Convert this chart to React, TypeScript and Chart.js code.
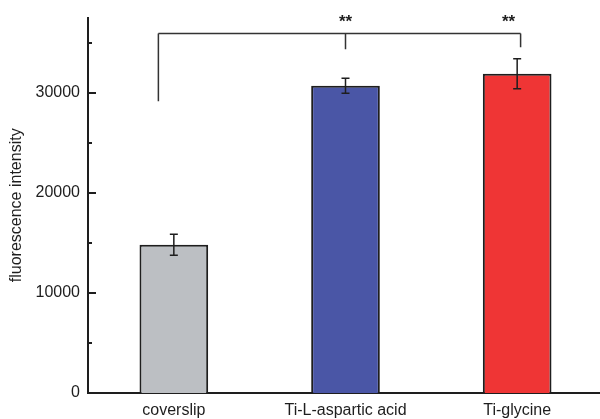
import React, { useEffect, useRef } from "react";
import { Chart, registerables } from "chart.js";

Chart.register(...registerables);

// Samples and mean fluorescence intensity
const categories = ["coverslip", "Ti-L-aspartic acid", "Ti-glycine"];
const meanIntensity = [14800, 30700, 31900];
const errorIntensity = [1050, 750, 1500];
const barColors = ["#bcbfc3", "#4a56a6", "#ef3535"];

// Y axis layout
const yMin = 0;
const yMax = 37500;
const labelTickValues = [0, 10000, 20000, 30000];
const majorTickValues = [10000, 20000, 30000];
const minorTickValues = [5000, 15000, 25000, 35000];

// Significance bracket (x in category index units, y in intensity units)
const bracketTopY = 35900;
const bracketLegX = [-0.09, 1.0, 2.02];
const bracketLegBottomY = [29150, 34350, 34550];
const starLabels = ["**", "**"];
const starX = [1.0, 1.95];
const starY = 36600;

const INK = "#1e1e1e";
const FONT = "'Liberation Sans', Arial, sans-serif";

const annotationsPlugin = {
  id: "figureAnnotations",
  afterDatasetsDraw(chart: any) {
    const { ctx, scales } = chart;
    const x = scales.x;
    const y = scales.y;
    ctx.save();

    // inward tick marks on the value axis
    ctx.strokeStyle = INK;
    ctx.lineWidth = 2;
    const axisX = x.left;
    const drawTick = (v: number, len: number) => {
      const py = Math.round(y.getPixelForValue(v));
      ctx.beginPath();
      ctx.moveTo(axisX, py);
      ctx.lineTo(axisX + len, py);
      ctx.stroke();
    };
    majorTickValues.forEach((v) => drawTick(v, 8));
    minorTickValues.forEach((v) => drawTick(v, 4));

    // error bars
    ctx.lineWidth = 1.5;
    meanIntensity.forEach((m, i) => {
      const px = x.getPixelForValue(i);
      const top = y.getPixelForValue(m + errorIntensity[i]);
      const bot = y.getPixelForValue(m - errorIntensity[i]);
      const cap = 4;
      ctx.beginPath();
      ctx.moveTo(px, top);
      ctx.lineTo(px, bot);
      ctx.moveTo(px - cap, top);
      ctx.lineTo(px + cap, top);
      ctx.moveTo(px - cap, bot);
      ctx.lineTo(px + cap, bot);
      ctx.stroke();
    });

    // significance bracket
    ctx.strokeStyle = "#333333";
    ctx.lineWidth = 1.5;
    const topPx = y.getPixelForValue(bracketTopY);
    ctx.beginPath();
    ctx.moveTo(x.getPixelForValue(bracketLegX[0]), topPx);
    ctx.lineTo(x.getPixelForValue(bracketLegX[bracketLegX.length - 1]), topPx);
    bracketLegX.forEach((lx, i) => {
      const px = x.getPixelForValue(lx);
      ctx.moveTo(px, topPx);
      ctx.lineTo(px, y.getPixelForValue(bracketLegBottomY[i]));
    });
    ctx.stroke();

    // significance stars
    ctx.fillStyle = INK;
    ctx.font = `bold 17px ${FONT}`;
    ctx.textAlign = "center";
    ctx.textBaseline = "alphabetic";
    starLabels.forEach((s, i) => {
      ctx.fillText(s, x.getPixelForValue(starX[i]), y.getPixelForValue(starY));
    });

    ctx.restore();
  },
};

export default function App() {
  const canvasRef = useRef<HTMLCanvasElement | null>(null);

  useEffect(() => {
    document.body.style.margin = "0";
    const canvas = canvasRef.current;
    if (!canvas) return;
    const chart = new Chart(canvas, {
      type: "bar",
      data: {
        labels: categories,
        datasets: [
          {
            data: meanIntensity,
            backgroundColor: barColors,
            borderColor: INK,
            borderWidth: 2,
            categoryPercentage: 1,
            barPercentage: 0.4,
          },
        ],
      },
      options: {
        animation: false,
        responsive: false,
        maintainAspectRatio: false,
        layout: { padding: { top: 13, right: 0, bottom: 0, left: 0 } },
        plugins: {
          legend: { display: false },
          tooltip: { enabled: false },
        },
        scales: {
          x: {
            grid: { display: false, drawTicks: false },
            border: { display: true, color: INK, width: 2 },
            ticks: {
              color: INK,
              font: { family: FONT, size: 16 },
              padding: 8,
              maxRotation: 0,
              autoSkip: false,
            },
            afterFit(scale: any) {
              scale.height = 26;
            },
          },
          y: {
            min: yMin,
            max: yMax,
            grid: { display: false, drawTicks: false },
            border: { display: true, color: INK, width: 2 },
            afterBuildTicks(scale: any) {
              scale.ticks = labelTickValues.map((v) => ({ value: v }));
            },
            ticks: {
              color: INK,
              font: { family: FONT, size: 16 },
              padding: 8,
              callback: (v: any) => String(v),
            },
            title: {
              display: true,
              text: "fluorescence intensity",
              color: INK,
              font: { family: FONT, size: 16 },
              padding: { top: 7, bottom: 0 },
            },
            afterFit(scale: any) {
              scale.width = 88;
            },
          },
        },
      },
      plugins: [annotationsPlugin],
    });
    return () => chart.destroy();
  }, []);

  return (
    <div style={{ width: 600, height: 419, overflow: "hidden", background: "#ffffff" }}>
      <canvas ref={canvasRef} width={603} height={419} />
    </div>
  );
}
